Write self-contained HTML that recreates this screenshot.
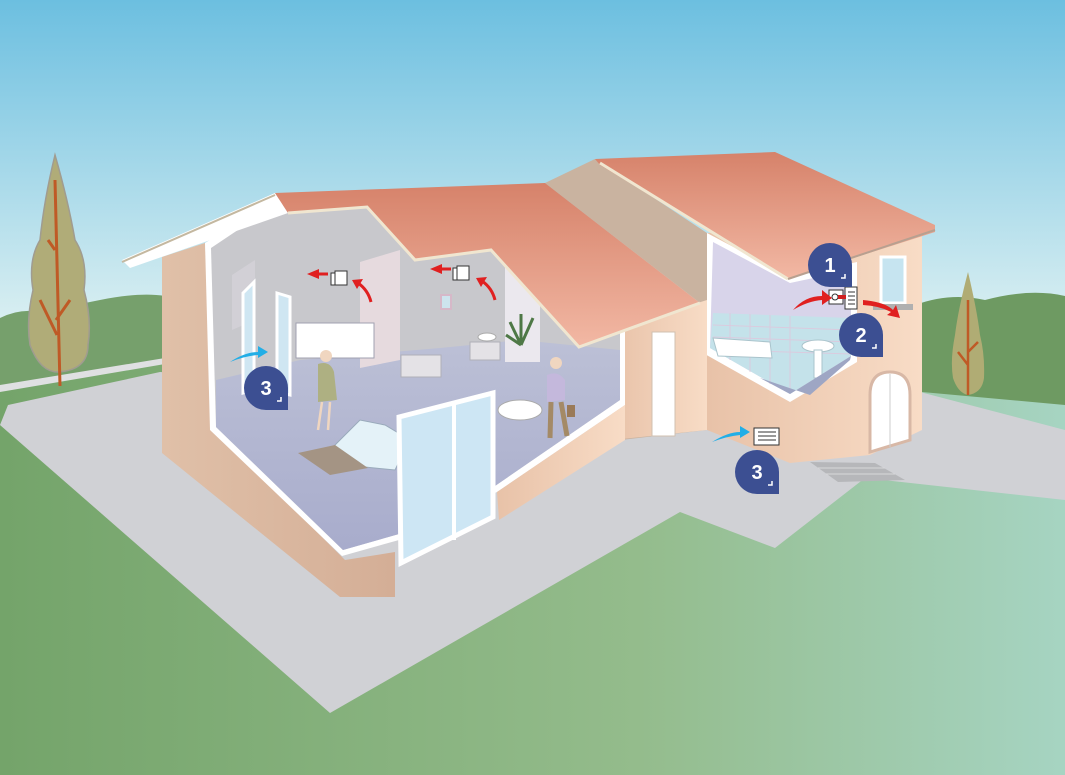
<!DOCTYPE html>
<html><head><meta charset="utf-8"><style>
html,body{margin:0;padding:0;width:1065px;height:775px;overflow:hidden;background:#fff}
</style></head><body>
<svg width="1065" height="775" viewBox="0 0 1065 775" xmlns="http://www.w3.org/2000/svg" font-family="Liberation Sans, sans-serif">
<defs>
<linearGradient id="sky" x1="0" y1="0" x2="0" y2="330" gradientUnits="userSpaceOnUse"><stop offset="0" stop-color="#6cbfe0"/><stop offset="1" stop-color="#dcf0f2"/></linearGradient>
<linearGradient id="grass" x1="0" y1="0" x2="1" y2="0"><stop offset="0" stop-color="#74a46a"/><stop offset="0.6" stop-color="#94bc8c"/><stop offset="1" stop-color="#a6d4c2"/></linearGradient>
<linearGradient id="roof" x1="0" y1="0" x2="0" y2="1"><stop offset="0" stop-color="#d6826a"/><stop offset="1" stop-color="#f2b8a4"/></linearGradient>
<linearGradient id="wall" x1="0" y1="0" x2="1" y2="0"><stop offset="0" stop-color="#e8c2a8"/><stop offset="1" stop-color="#f8dcc6"/></linearGradient>
<linearGradient id="lwall" x1="0" y1="0" x2="1" y2="0"><stop offset="0" stop-color="#e0c0a8"/><stop offset="1" stop-color="#d4ae96"/></linearGradient>
<linearGradient id="floor" x1="0" y1="0" x2="0" y2="1"><stop offset="0" stop-color="#bcc0d6"/><stop offset="1" stop-color="#a8accc"/></linearGradient>
</defs>
<rect width="1065" height="775" fill="url(#sky)"/>
<path d="M0 318 Q20 308 40 312 L100 300 Q140 292 165 296 L165 380 L0 392Z" fill="#76a06c"/>
<path d="M915 305 Q950 292 985 300 Q1030 288 1065 296 L1065 420 L915 400Z" fill="#6e9a62"/>
<path d="M0 388 L165 362 L900 390 L1065 405 L1065 775 L0 775Z" fill="url(#grass)"/>
<path d="M0 385 L165 358 L165 364 L0 392Z" fill="#dfe0e2"/>
<polygon points="8,405 160,372 700,400 920,392 1065,430 1065,500 865,478 775,548 680,512 330,713 0,425" fill="#d0d1d5"/>
<path d="M55 155 Q44 200 40 240 Q28 260 33 290 Q26 320 30 345 Q40 372 58 372 Q88 370 88 345 Q92 320 84 290 Q88 260 75 240 Q68 200 55 155Z" fill="#b0ac78" stroke="#a09c90" stroke-width="1.5"/>
<path d="M60 386 L55 180 M57 335 L40 300 M56 320 L70 300 M55 250 L48 240" stroke="#bf5a26" stroke-width="3" fill="none"/>
<path d="M968 272 Q958 310 955 335 Q950 360 953 378 Q958 393 968 395 Q982 393 984 378 Q985 355 980 335 Q977 310 968 272Z" fill="#b0ac74"/>
<path d="M968 395 L968 300 M968 365 L958 352 M968 352 L978 342" stroke="#bf5a26" stroke-width="2.5" fill="none"/>
<polygon points="707,233 922,230 922,430 870,455 790,463 707,430" fill="url(#wall)"/>
<polygon points="810,462 875,463 905,480 838,482" fill="#b6b7ba"/>
<line x1="818" y1="468" x2="885" y2="468" stroke="#d8d8da"/><line x1="826" y1="474" x2="895" y2="474" stroke="#d8d8da"/>
<polygon points="707,233 790,277 857,262 857,362 790,402 703,353" fill="#fff"/>
<polygon points="713,242 790,283 851,270 851,356 790,394 710,348" fill="#d8d4ea"/>
<polygon points="713,313 851,318 851,356 790,394 710,348" fill="#c4e2ea"/>
<g stroke="#e0c6dc" stroke-width="1" opacity="0.8">
<line x1="713" y1="325" x2="851" y2="330"/><line x1="713" y1="337" x2="851" y2="342"/><line x1="720" y1="350" x2="851" y2="354"/>
<line x1="730" y1="313" x2="730" y2="360"/><line x1="750" y1="314" x2="750" y2="372"/><line x1="770" y1="315" x2="770" y2="384"/><line x1="790" y1="316" x2="790" y2="394"/></g>
<polygon points="713,338 770,342 772,358 718,356" fill="#fff" stroke="#aac4cc"/>
<ellipse cx="818" cy="346" rx="16" ry="6" fill="#fff" stroke="#aac4cc"/>
<rect x="814" y="350" width="8" height="28" fill="#fff" stroke="#aac4cc"/>
<polygon points="760,378 810,395 850,360 851,356 790,394" fill="#9ea6c4"/>
<rect x="881" y="257" width="24" height="46" fill="#c6e4f0" stroke="#fff" stroke-width="3"/>
<rect x="873" y="304" width="40" height="6" fill="#b0b0b0"/>
<path d="M870 452 L870 395 Q870 372 890 372 Q910 372 910 395 L910 440Z" fill="#fff" stroke="#d8b8a6" stroke-width="3"/>
<line x1="890" y1="374" x2="890" y2="447" stroke="#ccc"/>
<polygon points="545,183 595,159 707,233 707,430 621,440 621,333 700,303" fill="#c9b3a0"/>
<polygon points="612,330 707,300 707,430 612,440" fill="url(#wall)"/>
<polygon points="595,159 775,152 935,225 935,232 788,279 600,165" fill="url(#roof)"/>
<line x1="600" y1="163" x2="788" y2="279" stroke="#f0e6d0" stroke-width="3"/>
<line x1="788" y1="279" x2="935" y2="230" stroke="#b8a090" stroke-width="2"/>
<polygon points="162,257 205,243 215,430 345,560 395,552 395,597 340,597 162,453" fill="url(#lwall)"/>
<polygon points="205,243 275,200 545,190 625,330 625,405 497,492 399,540 342,556 210,430" fill="#fff"/>
<polygon points="211,248 275,205 545,195 620,333 620,400 495,486 399,534 343,550 216,427" fill="#c8c8cc"/>
<polygon points="216,380 300,360 440,348 520,340 620,350 620,400 495,486 399,534 343,550 216,427" fill="url(#floor)"/>
<polygon points="232,275 255,260 255,320 232,330" fill="#d2d0d6"/>
<polygon points="360,262 400,250 400,360 360,368" fill="#e6dade"/>
<polygon points="505,250 540,290 540,362 505,362" fill="#ebe8ee"/>
<rect x="296" y="323" width="78" height="35" fill="#fff" stroke="#a0a0b0"/>
<rect x="401" y="355" width="40" height="22" fill="#e4e2e6" stroke="#b0b0b8"/>
<rect x="470" y="342" width="30" height="18" fill="#e4e2e6" stroke="#b0b0b8"/>
<rect x="441" y="295" width="10" height="14" fill="#cde4ee" stroke="#d6b8c8" stroke-width="2"/>
<ellipse cx="487" cy="337" rx="9" ry="4" fill="#fff" stroke="#aaa"/>
<polygon points="243,293 254,282 254,390 243,393" fill="#cfe6f2" stroke="#fff" stroke-width="3"/>
<polygon points="277,293 290,297 290,395 277,392" fill="#cfe6f2" stroke="#fff" stroke-width="3"/>
<polygon points="330,450 360,420 385,425 410,440 395,470 345,465" fill="#e4f2f8" stroke="#9ab"/>
<polygon points="298,453 335,445 368,468 330,475" fill="#a49484"/>
<ellipse cx="520" cy="410" rx="22" ry="10" fill="#fff" stroke="#aaa"/>
<polygon points="399,417 493,393 493,517 401,563" fill="#cde6f4" stroke="#fff" stroke-width="5"/>
<line x1="454" y1="403" x2="454" y2="540" stroke="#fff" stroke-width="4"/>
<polygon points="497,492 625,405 625,440 499,520" fill="url(#wall)"/>
<rect x="652" y="332" width="23" height="104" fill="#fff" stroke="#d0c0b0"/>
<path d="M318 364 Q330 360 334 372 L337 400 L318 402Z" fill="#aeb082"/>
<circle cx="326" cy="356" r="6" fill="#f0d6c0"/>
<line x1="322" y1="402" x2="318" y2="430" stroke="#f0d6c0" stroke-width="2.5"/><line x1="330" y1="402" x2="328" y2="430" stroke="#f0d6c0" stroke-width="2.5"/>
<path d="M547 375 Q558 370 565 380 L565 400 L547 402Z" fill="#c4b8dc"/>
<circle cx="556" cy="363" r="6" fill="#f0d6c0"/>
<line x1="551" y1="402" x2="550" y2="438" stroke="#a48a66" stroke-width="5"/>
<line x1="561" y1="402" x2="567" y2="436" stroke="#a48a66" stroke-width="5"/>
<rect x="567" y="405" width="8" height="12" fill="#9a7a58"/>
<path d="M521 345 L510 322 M521 345 L533 318 M521 345 L521 314 M521 345 L506 335" stroke="#4e7846" stroke-width="3"/>
<polygon points="122,260 275,193 288,213 130,268" fill="#fff"/>
<line x1="122" y1="262" x2="275" y2="195" stroke="#c4b8a0" stroke-width="2"/>
<polygon points="275,193 545,183 700,303 579,347 491,250 415,260 367,207 288,213" fill="url(#roof)"/>
<polyline points="288,213 367,207 415,260 491,250 579,347 700,303" fill="none" stroke="#f0e6d0" stroke-width="3"/>
<g stroke="#333" stroke-width="1" fill="#fff">
<rect x="331" y="273" width="12" height="12"/><rect x="335" y="271" width="12" height="14"/>
<rect x="453" y="268" width="12" height="12"/><rect x="457" y="266" width="12" height="14"/>
<rect x="829" y="290" width="14" height="14"/><rect x="845" y="287" width="12" height="22"/>
<rect x="754" y="428" width="25" height="17"/>
</g>
<g stroke="#333" stroke-width="1"><line x1="848" y1="292" x2="855" y2="292"/><line x1="848" y1="296" x2="855" y2="296"/><line x1="848" y1="300" x2="855" y2="300"/><line x1="848" y1="304" x2="855" y2="304"/>
<line x1="758" y1="432" x2="776" y2="432"/><line x1="758" y1="436" x2="776" y2="436"/><line x1="758" y1="440" x2="776" y2="440"/></g>
<circle cx="835" cy="297" r="3" fill="none" stroke="#333"/>
<rect x="838" y="295" width="8" height="4" fill="#d02020"/>
<g fill="none" stroke="#e02020" stroke-width="3">
<path d="M371 302 Q368 290 358 283"/><path d="M495 300 Q492 288 482 281"/>
<path d="M318 274 L328 274"/><path d="M441 269 L451 269"/>
</g>
<g fill="#e02020">
<path d="M307 274 L319 269 L319 279Z"/><path d="M352 280 L363 279 L357 289Z"/>
<path d="M430 269 L442 264 L442 274Z"/><path d="M476 278 L487 277 L481 287Z"/>
<path d="M793 310 Q805 296 822 296 L822 290 L832 298 L822 305 L822 300 Q808 301 793 310Z"/>
<path d="M863 300 Q885 302 893 310 L896 305 L900 318 L887 315 L891 312 Q880 306 863 305Z"/>
</g>
<g fill="#22aee6">
<path d="M230 362 Q245 352 258 352 L258 346 L268 352 L258 358 L258 355 Q245 356 230 362Z"/>
<path d="M712 442 Q728 432 740 432 L740 426 L750 432 L740 438 L740 435 Q728 436 712 442Z"/>
</g>
<g font-weight="bold" font-size="20" fill="#fff" text-anchor="middle">
<path d="M830 243 a22 22 0 1 0 0 44 h22 v-22 a22 22 0 0 0 -22 -22Z" fill="#3c4f92"/><text x="830" y="272">1</text>
<path d="M861 313 a22 22 0 1 0 0 44 h22 v-22 a22 22 0 0 0 -22 -22Z" fill="#3c4f92"/><text x="861" y="342">2</text>
<path d="M266 366 a22 22 0 1 0 0 44 h22 v-22 a22 22 0 0 0 -22 -22Z" fill="#3c4f92"/><text x="266" y="395">3</text>
<path d="M757 450 a22 22 0 1 0 0 44 h22 v-22 a22 22 0 0 0 -22 -22Z" fill="#3c4f92"/><text x="757" y="479">3</text>
</g>
<g stroke="#fff" stroke-width="1.5" fill="none">
<path d="M845 274 v4 h-4"/><path d="M876 344 v4 h-4"/><path d="M281 397 v4 h-4"/><path d="M772 481 v4 h-4"/>
</g>
</svg>
</body></html>
